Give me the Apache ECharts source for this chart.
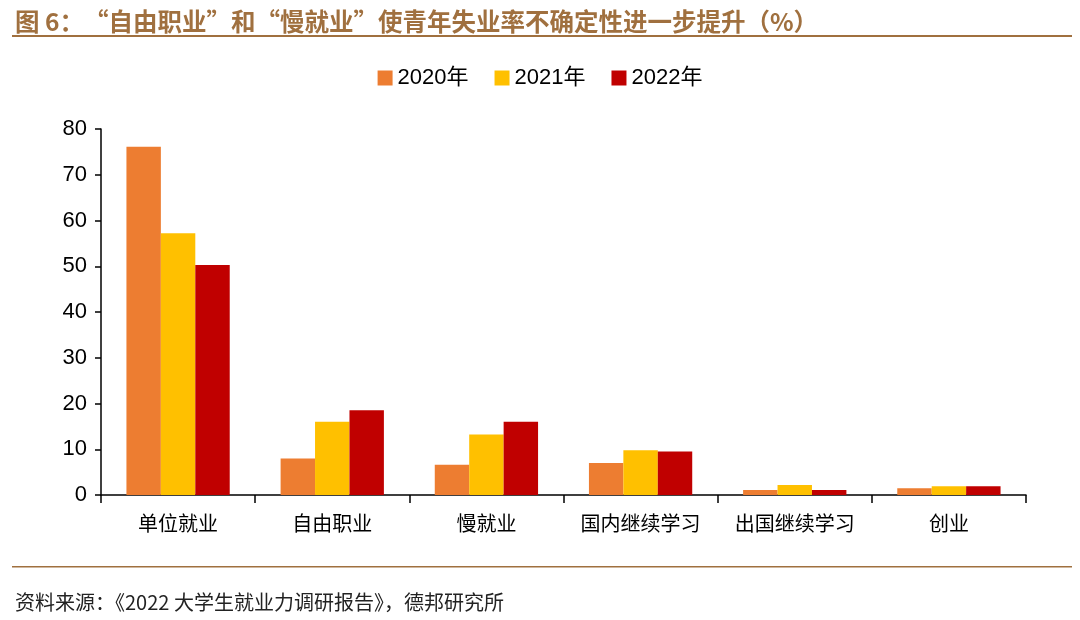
<!DOCTYPE html>
<html>
<head>
<meta charset="utf-8">
<script src="https://cdn.jsdelivr.net/npm/echarts@6/dist/echarts.min.js"></script>
<style>
  html, body { margin: 0; padding: 0; background: #fff; }
  #chart { width: 1080px; height: 620px; }
</style>
</head>
<body>
<div id="chart"></div>
<script>
// data
const categories = ['单位就业', '自由职业', '慢就业', '国内继续学习', '出国继续学习', '创业'];
const years = ['2020年', '2021年', '2022年'];
const values2020 = [76.1, 8.0, 6.6, 7.0, 1.1, 1.5];
const values2021 = [57.2, 16.0, 13.2, 9.8, 2.2, 1.9];
const values2022 = [50.3, 18.5, 16.0, 9.5, 1.1, 1.9];
const yTicks = [0, 10, 20, 30, 40, 50, 60, 70, 80];

const colors = ['#ED7D31', '#FFC000', '#C00000'];
const seriesValues = [values2020, values2021, values2022];

const chart = echarts.init(document.getElementById('chart'));

chart.setOption({
  animation: false,
  title: [
    {
      text: '图 6：“自由职业”和“慢就业”使青年失业率不确定性进一步提升（%）',
      left: 10,
      top: 4,
      textStyle: { fontSize: 24.5, fontWeight: 'bold', color: '#A0703F', fontFamily: 'Noto Sans CJK SC' }
    },
    {
      text: '资料来源：《2022 大学生就业力调研报告》，德邦研究所',
      left: 10,
      top: 587,
      textStyle: { fontSize: 20, fontWeight: 'normal', color: '#222', fontFamily: 'Noto Sans CJK SC' }
    }
  ],
  graphic: [
    { type: 'rect', shape: { x: 12, y: 35, width: 1060, height: 2 }, style: { fill: '#A0703F' } },
    { type: 'rect', shape: { x: 12, y: 566, width: 1060, height: 1.5 }, style: { fill: '#A0703F' } }
  ],
  legend: {
    top: 62,
    left: 'center',
    itemWidth: 15,
    itemHeight: 15,
    itemGap: 26,
    icon: 'rect',
    textStyle: { fontSize: 22, color: '#000', fontFamily: 'Liberation Sans, Noto Sans CJK SC' },
    data: years
  },
  grid: { left: 101, right: 54, top: 129, bottom: 125 },
  xAxis: {
    type: 'category',
    data: categories,
    axisLine: { lineStyle: { color: '#000', width: 1.5 } },
    axisTick: { show: true, length: 8, lineStyle: { color: '#000', width: 1.5 } },
    axisLabel: { interval: 0, fontSize: 20, color: '#000', margin: 18, fontFamily: 'Noto Sans CJK SC' }
  },
  yAxis: {
    type: 'value',
    min: yTicks[0],
    max: yTicks[yTicks.length - 1],
    interval: 10,
    splitLine: { show: false },
    axisLine: { show: true, lineStyle: { color: '#000', width: 1.5 } },
    axisTick: { show: true, length: 6, lineStyle: { color: '#000', width: 1.5 } },
    axisLabel: { fontSize: 22, color: '#000', margin: 14, fontFamily: 'Liberation Sans' }
  },
  series: years.map((name, i) => ({
    name: name,
    type: 'bar',
    data: seriesValues[i],
    barGap: '0%',
    barCategoryGap: '33%',
    itemStyle: { color: colors[i] }
  }))
});
</script>
</body>
</html>
